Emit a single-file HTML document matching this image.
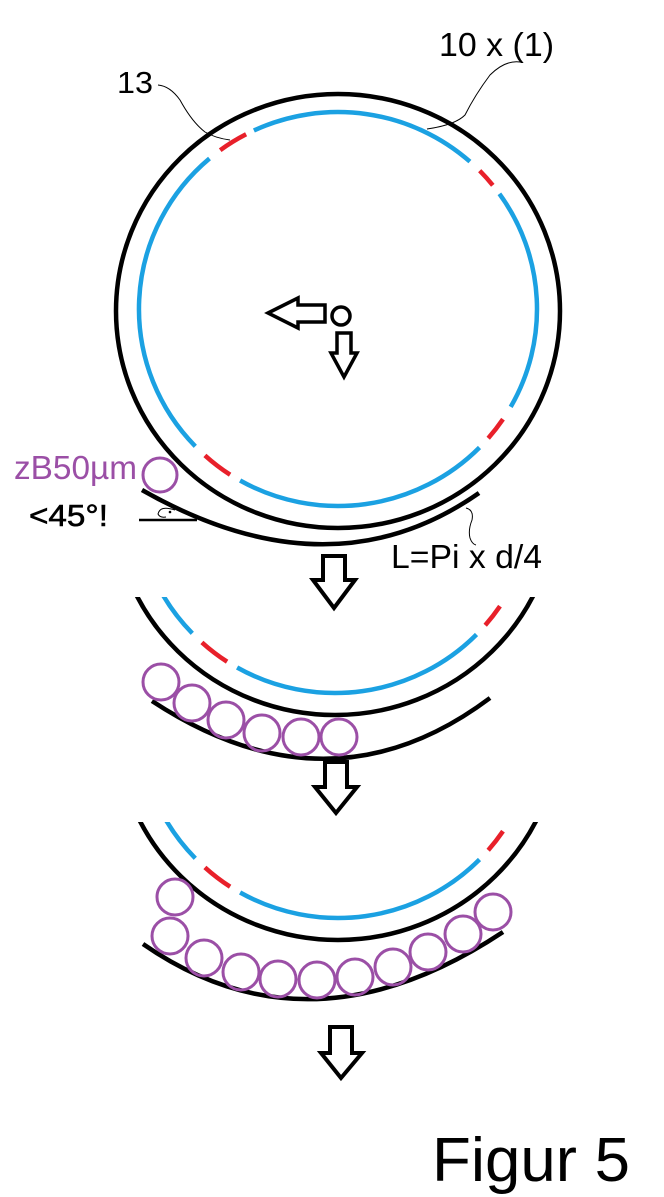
<!DOCTYPE html>
<html><head><meta charset="utf-8"><style>
html,body{margin:0;padding:0;background:#fff;}
svg{display:block;}
text{font-family:"Liberation Sans",Arial,sans-serif;}
</style></head><body>
<svg width="664" height="1197" viewBox="0 0 664 1197" xmlns="http://www.w3.org/2000/svg">
<defs>
<g id="ring">
  <ellipse cx="338" cy="311" rx="222" ry="217" fill="none" stroke="#000" stroke-width="4.5"/>
  <g fill="none" stroke="#1ba1e2" stroke-width="4.5">
    <path d="M499.4 193.8 A199 197 0 0 1 510.7 406.9"/>
    <path d="M479.5 447.5 A199 197 0 0 1 240.1 480.5"/>
    <path d="M195.3 446.3 A199 197 0 0 1 209.5 158.5"/>
    <path d="M253.9 130.5 A199 197 0 0 1 469.9 161.6"/>
  </g>
  <g fill="none" stroke="#e8202a" stroke-width="4.5">
    <path d="M503.0 419.2 A199 197 0 0 1 488.2 438.2"/>
    <path d="M230.1 474.7 A199 197 0 0 1 204.9 455.4"/>
    <path d="M220.2 150.2 A199 197 0 0 1 246.1 134.3"/>
    <path d="M479.7 170.7 A199 197 0 0 1 492.8 185.3"/>
  </g>
</g>
<clipPath id="c2"><rect x="0" y="597" width="664" height="200"/></clipPath>
<clipPath id="c3"><rect x="0" y="822" width="664" height="200"/></clipPath>
</defs>

<use href="#ring"/>
<path d="M268 313 L298 298 L298 305 L325 305 L325 322 L298 322 L298 328 Z" fill="#fff" stroke="#000" stroke-width="3.5"/>
<circle cx="341" cy="316" r="9" fill="#fff" stroke="#000" stroke-width="3.5"/>
<path d="M337 333 L351 333 L351 353 L357 353 L344 377 L331 353 L337 353 Z" fill="#fff" stroke="#000" stroke-width="3.5"/>
<path d="M142 490 Q330 597 479 493" fill="none" stroke="#000" stroke-width="4.5"/>
<circle cx="160" cy="475" r="17" fill="none" stroke="#9b4fa6" stroke-width="3"/>
<line x1="139" y1="520" x2="197" y2="520" stroke="#000" stroke-width="2.5"/>
<path d="M175 510 Q160 505 158 514 Q160 518 166 517" fill="none" stroke="#000" stroke-width="1"/>
<circle cx="170" cy="512" r="1.3" fill="#000"/>
<text x="14" y="479" font-size="33" fill="#9b4fa6" textLength="123" lengthAdjust="spacingAndGlyphs">zB50µm</text>
<text x="29" y="526" font-size="31" fill="#000" stroke="#000" stroke-width="0.6" textLength="79" lengthAdjust="spacingAndGlyphs">&lt;45°!</text>
<text x="391" y="568" font-size="33" fill="#000" textLength="151" lengthAdjust="spacingAndGlyphs">L=Pi x d/4</text>
<path d="M466 508 Q474 510 472 520 Q468 530 470 538 Q472 544 476 545" fill="none" stroke="#000" stroke-width="1"/>
<text x="117" y="93" font-size="31" fill="#000" textLength="36" lengthAdjust="spacingAndGlyphs">13</text>
<path d="M158 85 Q170 86 180 100 Q192 122 205 132 Q215 138 230 140" fill="none" stroke="#000" stroke-width="1"/>
<text x="439" y="56" font-size="33" fill="#000" textLength="115" lengthAdjust="spacingAndGlyphs">10 x (1)</text>
<path d="M520 62 Q505 60 490 75 Q475 95 465 115 Q455 125 427 129" fill="none" stroke="#000" stroke-width="1"/>

<path d="M323 556 L345 556 L345 580 L355 580 L334 608 L313 580 L323 580 Z" fill="#fff" stroke="#000" stroke-width="4"/>

<g clip-path="url(#c2)"><use href="#ring" transform="translate(-3,187)"/></g>
<path d="M152 701 Q330 818 490 698" fill="none" stroke="#000" stroke-width="4.5"/>
<g fill="none" stroke="#9b4fa6" stroke-width="3">
<circle cx="161" cy="682" r="18"/><circle cx="192" cy="703" r="18"/><circle cx="226" cy="720" r="18"/>
<circle cx="262" cy="733" r="18"/><circle cx="301" cy="737" r="18"/><circle cx="339" cy="737" r="18"/>
</g>
<path d="M325 762 L347 762 L347 787 L357 787 L336 813 L315 787 L325 787 Z" fill="#fff" stroke="#000" stroke-width="4"/>

<g clip-path="url(#c3)"><use href="#ring" transform="translate(0,412)"/></g>
<path d="M143 944 Q310 1060 503 932" fill="none" stroke="#000" stroke-width="4.5"/>
<g fill="none" stroke="#9b4fa6" stroke-width="3">
<circle cx="175" cy="897" r="18"/><circle cx="170" cy="936" r="18"/><circle cx="204" cy="958" r="18"/>
<circle cx="241" cy="972" r="18"/><circle cx="278" cy="979" r="18"/><circle cx="317" cy="980" r="18"/>
<circle cx="355" cy="977" r="18"/><circle cx="393" cy="967" r="18"/><circle cx="428" cy="952" r="18"/>
<circle cx="463" cy="934" r="18"/><circle cx="493" cy="912" r="18"/>
</g>
<path d="M330 1027 L352 1027 L352 1053 L362 1053 L341 1078 L321 1053 L330 1053 Z" fill="#fff" stroke="#000" stroke-width="4"/>

<text x="432" y="1181" font-size="62" fill="#000" textLength="198" lengthAdjust="spacingAndGlyphs">Figur 5</text>
</svg>
</body></html>
